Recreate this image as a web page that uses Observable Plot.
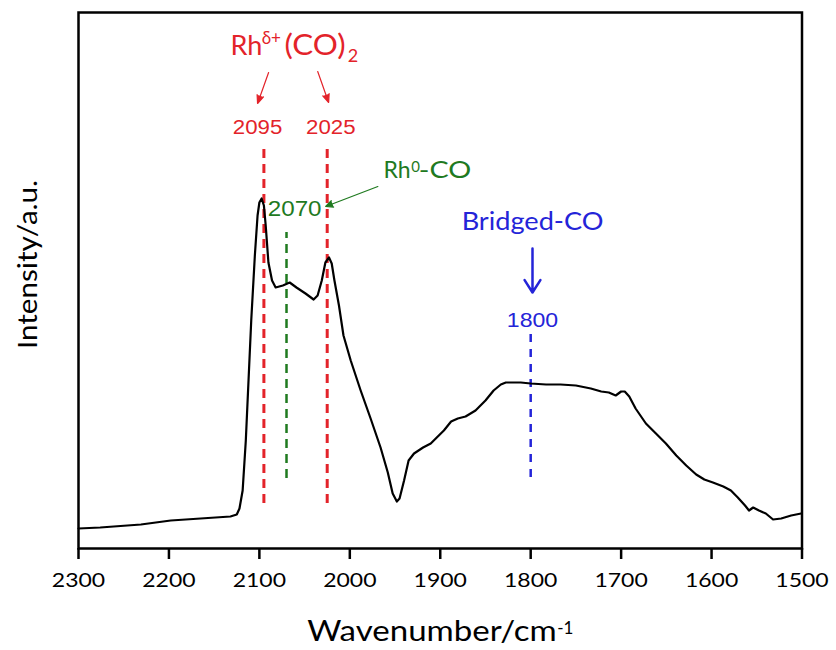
<!DOCTYPE html>
<html><head><meta charset="utf-8">
<script src="https://cdn.jsdelivr.net/npm/d3@7"></script>
<script src="https://cdn.jsdelivr.net/npm/@observablehq/plot@0.6"></script>
<style>
body{margin:0;background:#fff;}
</style></head><body><div id="chart"></div>
<script>
const wavenumber = [2300,2276,2231,2198,2165,2132,2125,2122,2118.5,2115,2112,2109,2105,2102,2100,2097.5,2095,2093,2090,2086,2082,2074,2066.5,2059,2049,2040,2035.6,2031,2027,2023,2020,2017,2012,2007,1999,1988,1977,1966,1958,1952.6,1948,1945,1940,1935,1929,1919,1910.5,1896,1888,1880.6,1872,1861,1850,1841,1833,1827.5,1811,1800,1783,1767,1750,1733.5,1722,1713.6,1706,1700,1696,1691,1684,1672.6,1661.5,1650.5,1639,1628,1617,1608,1598.5,1587,1578.6,1571,1563,1558.6,1554,1547.6,1540,1532,1523,1512,1501,1500];
const intensity = [17,18,21,25,27,29,31,37,55,105,165,225,290,330,343,347,340,320,283,265,258,260,263,258,252,246,250,265,283,288,282,265,240,210,185,155,127,98,73,52,44,47,65,85,92,98,102,115,124,127,129,135,145,155,161,163,163,162,161,161,160,157,154,153,150,154,154,149,137,122,112,102,90,80,71,66,63,59,55,48,40,35,38,35,32,26,27,30,32,32];
const xTicks = [2300,2200,2100,2000,1900,1800,1700,1600,1500];

// peak markers: wavenumber, dashed extent (intensity from, to)
const rhDeltaPeaks = [2095, 2025];
const rhDeltaSpan = [42, 398];
const rh0Peaks = [2070];
const rh0Span = [67, 313];
const bridgedPeaks = [1800];
const bridgedSpan = [68, 213];

// peak number labels
const rhDeltaLabels = [{w: 2102, i: 412, t: "2095"}, {w: 2021, i: 412, t: "2025"}];
const rh0Labels = [{w: 2061, i: 330, t: "2070"}];
const bridgedLabels = [{w: 1798, i: 219, t: "1800"}];

// arrows
const redArrows = [{w1: 2089.8, i1: 473, w2: 2102, i2: 442}, {w1: 2035.5, i1: 474, w2: 2023.4, i2: 443}];
const greenArrows = [{w1: 1969, i1: 359, w2: 2026.7, i2: 339}];
const blueArrows = [{w1: 1798, i1: 297, w2: 1798, i2: 253}];

const curve = wavenumber.map((w, k) => ({w, i: intensity[k]}));

const red = "#e3232a", green = "#1f7a1f", blue = "#2424d8";
const sans = "Lato, 'Open Sans', sans-serif";
const arial = "'Liberation Sans', Arial, sans-serif";

const chart = Plot.plot({
  width: 836, height: 650,
  marginLeft: 78, marginRight: 34.5, marginTop: 12, marginBottom: 102,
  style: {fontFamily: sans, background: "#fff", color: "#000"},
  x: {domain: [2300, 1500], range: [78, 801.5]},
  y: {domain: [-3, 533], axis: null},
  marks: [
    Plot.ruleX(rhDeltaPeaks, {x: d => d, y1: rhDeltaSpan[0], y2: rhDeltaSpan[1], stroke: red, strokeWidth: 3, strokeDasharray: "9,6"}),
    Plot.ruleX(rh0Peaks, {x: d => d, y1: rh0Span[0], y2: rh0Span[1], stroke: green, strokeWidth: 2.5, strokeDasharray: "9,6"}),
    Plot.ruleX(bridgedPeaks, {x: d => d, y1: bridgedSpan[0], y2: bridgedSpan[1], stroke: blue, strokeWidth: 2.5, strokeDasharray: "8,7"}),
    Plot.line(curve, {x: "w", y: "i", stroke: "#000", strokeWidth: 2.2}),
    Plot.frame({stroke: "#000", strokeWidth: 2.5}),
    Plot.axisX({ticks: xTicks, tickSize: 11, tickPadding: 13, strokeWidth: 2.5, fontSize: 20, tickFormat: d => String(d), label: null}),
    // y label
    Plot.text(["Intensity/a.u."], {frameAnchor: "left", textAnchor: "middle", rotate: -90, dx: -50, dy: -16, fontSize: 26, fill: "#000"}),
    // x label
    Plot.text(["Wavenumber/cm"], {frameAnchor: "bottom", textAnchor: "start", lineAnchor: "bottom", dx: -133, dy: 92, fontSize: 29, fill: "#000"}),
    Plot.text(["-1"], {frameAnchor: "bottom", textAnchor: "start", lineAnchor: "bottom", dx: 117, dy: 85, fontSize: 17, fill: "#000"}),
    // arrows
    Plot.arrow(redArrows, {x1: "w1", y1: "i1", x2: "w2", y2: "i2", stroke: red, fill: red, strokeWidth: 1.2, headLength: 11, headAngle: 45}),
    Plot.arrow(greenArrows, {x1: "w1", y1: "i1", x2: "w2", y2: "i2", stroke: green, fill: green, strokeWidth: 1.2, headLength: 10, headAngle: 50}),
    Plot.arrow(blueArrows, {x1: "w1", y1: "i1", x2: "w2", y2: "i2", stroke: blue, strokeWidth: 2.5, headLength: 14, headAngle: 65}),
    // peak numbers
    Plot.text(rhDeltaLabels, {x: "w", y: "i", text: "t", lineAnchor: "bottom", fill: red, fontSize: 21, fontFamily: arial}),
    Plot.text(rh0Labels, {x: "w", y: "i", text: "t", lineAnchor: "bottom", fill: green, fontSize: 22, fontFamily: arial}),
    Plot.text(bridgedLabels, {x: "w", y: "i", text: "t", lineAnchor: "bottom", fill: blue, fontSize: 21, fontFamily: arial}),
    // Rh δ+ (CO)2 title
    Plot.text(["Rh"], {x: 2131.8, y: 491, textAnchor: "start", lineAnchor: "bottom", fill: red, fontSize: 27}),
    Plot.text(["δ+"], {x: 2097.5, y: 502, textAnchor: "start", lineAnchor: "bottom", fill: red, fontSize: 17}),
    Plot.text(["(CO)"], {x: 2072.1, y: 491, textAnchor: "start", lineAnchor: "bottom", fill: red, fontSize: 28}),
    Plot.text(["2"], {x: 2002.4, y: 484, textAnchor: "start", lineAnchor: "bottom", fill: red, fontSize: 18}),
    // Rh0-CO
    Plot.text(["Rh"], {x: 1962.8, y: 368, textAnchor: "start", lineAnchor: "bottom", fill: green, fontSize: 23}),
    Plot.text(["0"], {x: 1932.1, y: 374, textAnchor: "start", lineAnchor: "bottom", fill: green, fontSize: 15}),
    Plot.text(["-CO"], {x: 1923.8, y: 368, textAnchor: "start", lineAnchor: "bottom", fill: green, fontSize: 23}),
    // Bridged-CO
    Plot.text(["Bridged-CO"], {x: 1798, y: 316, lineAnchor: "bottom", fill: blue, fontSize: 25})
  ]
});
// the reference lettering is stretched horizontally: widen these labels along their baseline
const stretch = new Map([["Intensity/a.u.", 1.14], ["Wavenumber/cm", 1.14], ["2095", 1.06], ["2025", 1.06], ["2070", 1.1], ["1800", 1.1], ["(CO)", 1.12], ["-CO", 1.25], ["Bridged-CO", 1.085]]);
const tickSet = new Set(xTicks.map(String));
let isTick = t => tickSet.has(t.textContent) && !t.hasAttribute("fill") && t.closest("g") && !t.closest("g").getAttribute("fill");
chart.querySelectorAll("text").forEach(t => {
  const s = t.textContent;
  let k = stretch.get(s);
  if (tickSet.has(s)) {
    const g = t.parentNode;
    const fill = (g && g.getAttribute("fill")) || t.getAttribute("fill") || "";
    if (!/#/.test(fill)) k = 1.15;
  }
  if (k) {
    const tr = t.getAttribute("transform") || "";
    t.setAttribute("transform", `${tr} scale(${k},1)`);
  }
});
document.getElementById("chart").appendChild(chart);
</script></body></html>
